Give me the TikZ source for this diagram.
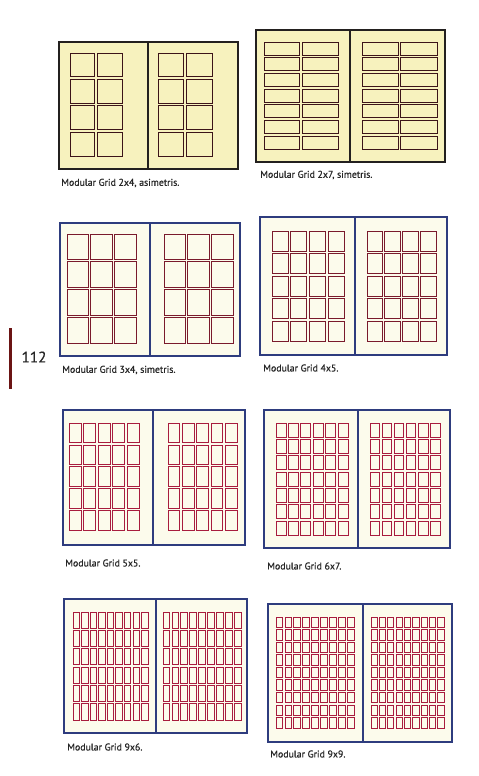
\documentclass[tikz,border=0pt]{standalone}
\usepackage{fontspec}
\setmainfont{PT Sans}
\newfontfamily\capfont[FakeBold=0.6]{PT Sans}
\usetikzlibrary{positioning}

\definecolor{paleyellow}{HTML}{F7F2BE}
\definecolor{cream}{HTML}{FCFBEC}
\definecolor{inkblack}{HTML}{23201F}
\definecolor{navy}{HTML}{2E3C7E}
\definecolor{maroon}{HTML}{3C1419}
\definecolor{wine}{HTML}{7A1A2C}
\definecolor{crimson}{HTML}{A81C3E}
\definecolor{barred}{HTML}{6B1414}
\definecolor{captext}{HTML}{262626}

\tikzset{
  spread/.style={line width=1pt},
  gridline/.style={line width=.7pt},
  caption/.style={anchor=west,inner sep=0pt,text=captext,font=\capfont\fontsize{8.4}{10}\selectfont}
}

% modules: x0, x1, y0, y1, columns, rows, gutter
\newcommand\modgrid[7]{%
  \pgfmathsetmacro\modw{(#2-#1-(#5-1)*#7)/#5}%
  \pgfmathsetmacro\modh{(#4-#3-(#6-1)*#7)/#6}%
  \foreach \i in {1,...,#5}{\foreach \j in {1,...,#6}{
    \draw[gridline] ({#1+(\i-1)*(\modw+#7)},{#3+(\j-1)*(\modh+#7)}) rectangle ++(\modw,\modh);
  }}}

\begin{document}
\begin{tikzpicture}[x=0.03cm,y=-0.03cm]
\fill[white] (0,0) rectangle (479,776);
\useasboundingbox (0,0) rectangle (479,776);

% page number
\fill[barred] (9,328) rectangle (12,389);
\node[font=\capfont\fontsize{13}{15}\selectfont,text=captext] (pagenum) at (34,357) {112};

% 2x4
\draw[spread,draw=inkblack,fill=paleyellow] (59,42) rectangle (238,169);
\draw[spread,draw=inkblack] (148,42) -- (148,169);
\begin{scope}[draw=maroon]
\modgrid{70}{122}{53}{156}{2}{4}{2.6}
\modgrid{158}{212}{53}{156}{2}{4}{2.6}
\end{scope}
\node[caption] (cap1) at (61,183) {Modular Grid 2x4, asimetris.};

% 2x7
\draw[spread,draw=inkblack,fill=paleyellow] (256,30) rectangle (445,162);
\draw[spread,draw=inkblack] (350,30) -- (350,162);
\begin{scope}[draw=maroon]
\modgrid{264}{338}{42}{149}{2}{7}{2.6}
\modgrid{362}{437}{42}{149}{2}{7}{2.6}
\end{scope}
\node[caption] (cap2) at (260,175) {Modular Grid 2x7, simetris.};

% 3x4
\draw[spread,draw=navy,fill=cream] (60,223) rectangle (240,356);
\draw[spread,draw=navy] (150,223) -- (150,356);
\begin{scope}[draw=wine]
\modgrid{67}{136}{234}{343}{3}{4}{2.6}
\modgrid{164}{233}{234}{343}{3}{4}{2.6}
\end{scope}
\node[caption] (cap3) at (62,370) {Modular Grid 3x4, simetris.};

% 4x5
\draw[spread,draw=navy,fill=cream] (260,217) rectangle (447,355);
\draw[spread,draw=navy] (355,217) -- (355,355);
\begin{scope}[draw=wine]
\modgrid{272}{344}{231}{341}{4}{5}{2.6}
\modgrid{367}{436}{231}{341}{4}{5}{2.6}
\end{scope}
\node[caption] (cap4) at (263,368) {Modular Grid 4x5.};

% 5x5
\draw[spread,draw=navy,fill=cream] (63,410) rectangle (245,545);
\draw[spread,draw=navy] (153,410) -- (153,545);
\begin{scope}[draw=crimson]
\modgrid{69}{139}{423}{530}{5}{5}{2.6}
\modgrid{168}{237}{423}{530}{5}{5}{2.6}
\end{scope}
\node[caption] (cap5) at (65,563) {Modular Grid 5x5.};

% 6x7
\draw[spread,draw=navy,fill=cream] (264,410) rectangle (450,548);
\draw[spread,draw=navy] (358,410) -- (358,548);
\begin{scope}[draw=crimson]
\modgrid{276}{348}{423}{535}{6}{7}{2.4}
\modgrid{370}{440}{423}{535}{6}{7}{2.4}
\end{scope}
\node[caption] (cap6) at (267,566) {Modular Grid 6x7.};

% 9x6
\draw[spread,draw=navy,fill=cream] (64,599) rectangle (247,733);
\draw[spread,draw=navy] (156,599) -- (156,733);
\begin{scope}[draw=crimson]
\modgrid{73}{148}{612}{720}{9}{6}{2.2}
\modgrid{163}{241}{612}{720}{9}{6}{2.2}
\end{scope}
\node[caption] (cap7) at (67,747) {Modular Grid 9x6.};

% 9x9
\draw[spread,draw=navy,fill=cream] (268,604) rectangle (452,742);
\draw[spread,draw=navy] (363,604) -- (363,742);
\begin{scope}[draw=crimson]
\modgrid{276}{354}{617}{728}{9}{9}{2.2}
\modgrid{371}{444}{617}{728}{9}{9}{2.2}
\end{scope}
\node[caption] (cap8) at (270,754) {Modular Grid 9x9.};
\end{tikzpicture}
\end{document}
